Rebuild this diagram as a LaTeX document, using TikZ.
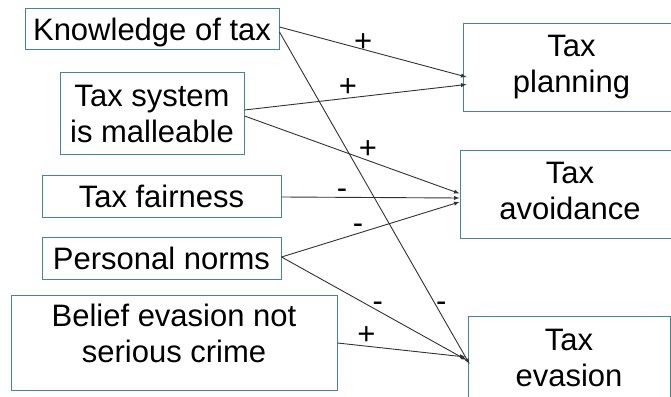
\documentclass[tikz,border=0pt]{standalone}
\usepackage{fontspec}
\setmainfont{Liberation Sans}
\definecolor{boxline}{RGB}{70,135,138}
\definecolor{arrline}{RGB}{50,50,50}
\begin{document}
\begin{tikzpicture}[x=1pt,y=1pt,
box/.style = {draw=boxline, line width=1pt, align=center, inner sep=0pt, font=\fontsize{31}{36}\selectfont},
one/.style = {box, text height=22pt, text depth=0pt},
right/.style = {box, minimum height=88pt, text height=58pt, text depth=8pt},
edge/.style = {draw=arrline, line width=0.9pt, -latex},
sign/.style = {inner sep=0pt, font=\fontsize{31}{36}\selectfont},
]
\useasboundingbox (0,0) rectangle (671,396);
\clip (0,0) rectangle (671,396);

\node[one, minimum width=254pt, minimum height=41pt] (know) at (152,366.5) {Knowledge of tax};
\node[box, minimum width=184pt, minimum height=82pt] (sys) at (152,282) {Tax system\\is malleable};
\node[one, minimum width=239pt, minimum height=42pt] (fair) at (161.5,199) {Tax fairness};
\node[one, minimum width=239pt, minimum height=42pt] (norms) at (161.5,137) {Personal norms};
\node[box, minimum width=326pt, minimum height=94pt, text height=58pt, text depth=18.6pt] (belief) at (174,53) {Belief evasion not\\serious crime};

\node[right, minimum width=217pt] (plan) at (571.5,328) {Tax\\planning};
\node[right, minimum width=220pt] (avoid) at (570,201) {Tax\\avoidance};
\node[right, minimum width=202pt] (evas) at (569,35) {Tax\\evasion};

\draw[edge] ([yshift=2.5pt]know.east) -- ([xshift=4pt,yshift=-9pt]plan.west)
node[sign, pos=0.447, yshift=7pt] {+};
\draw[edge] ([yshift=-2.5pt]know.east) -- ([xshift=2pt,yshift=-3pt]evas.west)
node[sign, pos=0.852, yshift=8.3pt] {-};
\draw[edge] ([yshift=4pt]sys.east) -- ([xshift=4pt,yshift=-16.5pt]plan.west)
node[sign, pos=0.466, yshift=10.8pt] {+};
\draw[edge] ([yshift=-2pt]sys.east) -- ([yshift=1.5pt]avoid.west)
node[sign, pos=0.574, yshift=10.8pt] {+};
\draw[edge] (fair.east) -- ([yshift=-3pt]avoid.west)
node[sign, pos=0.34, yshift=3.8pt] {-};
\draw[edge] ([yshift=2pt]norms.east) -- ([yshift=-7pt]avoid.west)
node[sign, pos=0.43, yshift=4.6pt] {-};
\draw[edge] ([yshift=2pt]norms.east) -- ([xshift=-1pt,yshift=1pt]evas.west)
node[sign, pos=0.52, yshift=4pt] {-};
\draw[edge] (belief.east) -- ([xshift=-2pt,yshift=4pt]evas.west)
node[sign, pos=0.225, yshift=11pt] {+};
\end{tikzpicture}
\end{document}
